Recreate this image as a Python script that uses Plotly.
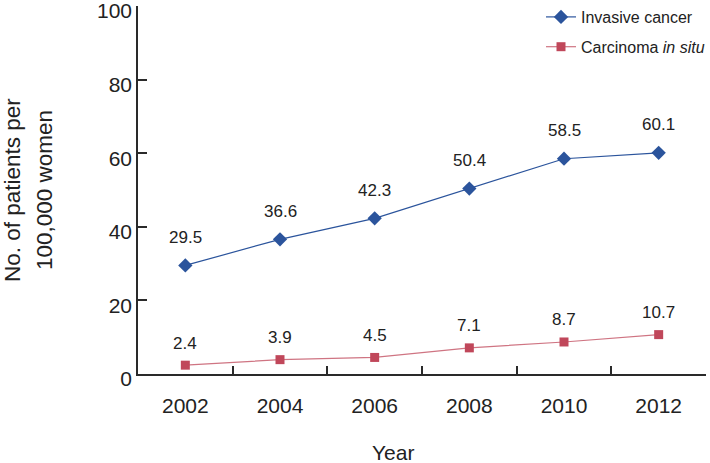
import plotly.graph_objects as go

years = ["2002", "2004", "2006", "2008", "2010", "2012"]
invasive = [29.5, 36.6, 42.3, 50.4, 58.5, 60.1]
in_situ = [2.4, 3.9, 4.5, 7.1, 8.7, 10.7]
y_ticks = [0, 20, 40, 60, 80, 100]

FONT = "Liberation Sans, Arial, sans-serif"
BLUE = "#2B549C"
RED = "#C0475A"
RED_LINE = "#CF7482"
TXT = "#222"
AXIS = "#2a2a2a"

fig = go.Figure()
fig.add_trace(go.Scatter(
    x=years, y=invasive, mode="lines+markers", name="Invasive cancer",
    legendgroup="a",
    line=dict(color=BLUE, width=1.2),
    marker=dict(symbol="diamond", size=11, color=BLUE),
))
fig.add_trace(go.Scatter(
    x=years, y=in_situ, mode="lines+markers", name="Carcinoma <i>in situ</i>",
    legendgroup="b",
    line=dict(color=RED_LINE, width=1.2),
    marker=dict(symbol="square", size=9, color=RED),
))

for i, v in enumerate(invasive):
    fig.add_annotation(x=i, y=v, xref="x", yref="y", text=f"{v:.1f}", showarrow=False, yshift=28,
                       font=dict(family=FONT, size=17, color=TXT))
for i, v in enumerate(in_situ):
    fig.add_annotation(x=i, y=v, xref="x", yref="y", text=f"{v:.1f}", showarrow=False, yshift=22,
                       font=dict(family=FONT, size=17, color=TXT))

# axis titles (two lines placed separately)
PLOT_L, PLOT_W, PLOT_T, PLOT_B = 138, 568, 6, 374
PLOT_H = PLOT_B - PLOT_T
for cx, line in [(12, "No. of patients per"), (44, "100,000 women")]:
    fig.add_annotation(xref="paper", yref="paper", x=(cx - PLOT_L) / PLOT_W, y=(PLOT_B - 190) / PLOT_H,
                       text=line, textangle=-90, showarrow=False,
                       xanchor="center", yanchor="middle",
                       font=dict(family=FONT, size=22.5, color=TXT))
fig.add_annotation(xref="paper", yref="paper", x=(393 - PLOT_L) / PLOT_W, y=(PLOT_B - 452) / PLOT_H,
                   text="Year", showarrow=False, xanchor="center", yanchor="middle",
                   font=dict(family=FONT, size=21, color=TXT))

fig.update_layout(
    width=710, height=463,
    margin=dict(l=PLOT_L, r=710 - PLOT_L - PLOT_W, t=PLOT_T, b=463 - PLOT_B, autoexpand=False),
    paper_bgcolor="white", plot_bgcolor="white",
    font=dict(family=FONT, size=20, color=TXT),
    showlegend=True,
    legend=dict(xref="container", yref="container", x=541 / 710, y=1 + 2 / 463,
                xanchor="left", yanchor="top",
                font=dict(family=FONT, size=16, color=TXT),
                bgcolor="rgba(0,0,0,0)", itemwidth=30,
                traceorder="grouped", tracegroupgap=6),
    xaxis=dict(
        type="category", range=[-0.5, 5.5], automargin=False,
        showline=True, linecolor=AXIS, linewidth=1.5,
        ticks="inside", tickson="boundaries", ticklen=8, tickcolor=AXIS, tickwidth=1.5,
        showgrid=False, zeroline=False, ticklabelstandoff=12,
        tickfont=dict(family=FONT, size=21, color=TXT),
    ),
    yaxis=dict(
        range=[0, 100], tickmode="array", tickvals=y_ticks, automargin=False,
        ticklabeloverflow="allow", ticklabelshift=5,
        showline=True, linecolor=AXIS, linewidth=1.5,
        ticks="inside", ticklen=9, tickcolor=AXIS, tickwidth=1.5,
        showgrid=False, zeroline=False,
        tickfont=dict(family=FONT, size=21, color=TXT),
    ),
)

fig.write_html("out.html", config={"displayModeBar": False},
               post_script="document.body.style.margin='0';")
